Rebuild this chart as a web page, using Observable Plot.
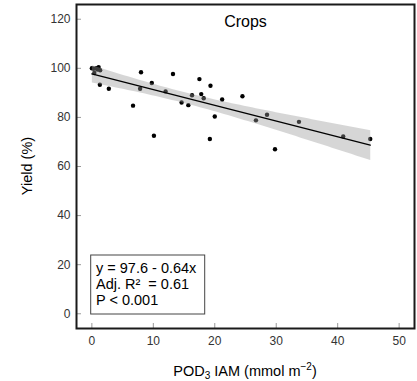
<!DOCTYPE html>
<html><head><meta charset="utf-8">
<script src="https://cdn.jsdelivr.net/npm/d3@7"></script>
<script src="https://cdn.jsdelivr.net/npm/@observablehq/plot@0.6"></script>
<style>
body{margin:0;background:#fff}
svg{font-family:"Liberation Sans",Arial,sans-serif}
</style>
</head><body><div id="chart"></div>
<script>
const podIAM   = [0, 0.3, 0.4, 0.7, 0.9, 1.1, 1.35, 1.3, 2.76, 6.7, 8.0, 7.85, 9.75, 10.1, 12.0, 13.2, 14.6, 15.7, 16.3, 17.5, 17.8, 18.2, 19.3, 19.2, 20.0, 21.2, 24.5, 26.7, 28.5, 29.8, 33.7, 40.9, 45.3];
const yieldPct = [100, 99.8, 98.1, 100, 99.5, 100.5, 99.2, 93.3, 91.7, 84.8, 98.4, 91.7, 94.0, 72.5, 90.6, 97.7, 86.1, 85.0, 89.0, 95.6, 89.5, 87.8, 92.9, 71.2, 80.4, 87.3, 88.6, 78.8, 81.1, 67.0, 78.2, 72.2, 71.2];
const xTicks = [0, 10, 20, 30, 40, 50];
const yTicks = [0, 20, 40, 60, 80, 100, 120];
const title = "Crops";
const statsLines = ["y = 97.6 - 0.64x", "Adj. R\u00B2  = 0.61", "P < 0.001"];

const data = podIAM.map((x, i) => ({x, y: yieldPct[i]}));

const chart = Plot.plot({
  width: 417, height: 381,
  marginLeft: 76, marginRight: 3, marginTop: 4, marginBottom: 53,
  style: {fontFamily: '"Liberation Sans", Arial, sans-serif', fontSize: "12px", background: "white", color: "#333"},
  x: {domain: [-2.5, 52.5], label: null},
  y: {domain: [-6, 126], label: null},
  marks: [
    Plot.axisX(xTicks, {tickSize: -5, tickPadding: 13, stroke: "#999", fill: "#333", fontSize: 12}),
    Plot.axisY(yTicks, {tickSize: -5, tickPadding: 11, stroke: "#999", fill: "#333", fontSize: 12}),
    Plot.dot(data, {x: "x", y: "y", r: 2.2, fill: "black", stroke: null}),
    Plot.linearRegressionY(data, {x: "x", y: "y", stroke: "black", strokeWidth: 1.4, fill: "#999", fillOpacity: 0.4, ci: 0.95}),
    Plot.text([title], {frameAnchor: "top", lineAnchor: "top", dy: 11, fontSize: 16, fill: "black"}),
    Plot.frame({stroke: "#1a1a1a", strokeWidth: 2})
  ]
});
document.getElementById("chart").appendChild(chart);

const svg = d3.select(chart);
const xr = chart.scale("x").range;
const yr = chart.scale("y").range;
const pLeft = xr[0], pRight = xr[1], pBottom = yr[0], pTop = yr[1];
const cx = (pLeft + pRight) / 2, cy = (pTop + pBottom) / 2;

// stats box
const g = svg.append("g").attr("text-anchor", "start");
g.append("rect").attr("x", pLeft + 14.7).attr("y", pBottom - 73).attr("width", 114).attr("height", 59)
  .attr("fill", "white").attr("stroke", "#444").attr("stroke-width", 1);
statsLines.forEach((t, i) => {
  g.append("text").attr("x", pLeft + 20).attr("y", pBottom - 55 + i * 16).attr("text-anchor", "start")
    .attr("font-size", 14.5).attr("fill", "black").text(t);
});

// x axis title
const xt = svg.append("text").attr("x", cx).attr("y", 376).attr("text-anchor", "middle")
  .attr("font-size", 14.5).attr("fill", "black");
xt.append("tspan").text("POD");
xt.append("tspan").attr("font-size", 10).attr("dy", 3).text("3");
xt.append("tspan").attr("dy", -3).text(" IAM (mmol m");
xt.append("tspan").attr("font-size", 10).attr("dy", -6).text("\u22122");
xt.append("tspan").attr("dy", 6).text(")");

// y axis title
svg.append("text").attr("transform", `translate(32,${cy}) rotate(-90)`).attr("text-anchor", "middle")
  .attr("font-size", 14.5).attr("fill", "black").text("Yield (%)");
</script>
</body></html>
